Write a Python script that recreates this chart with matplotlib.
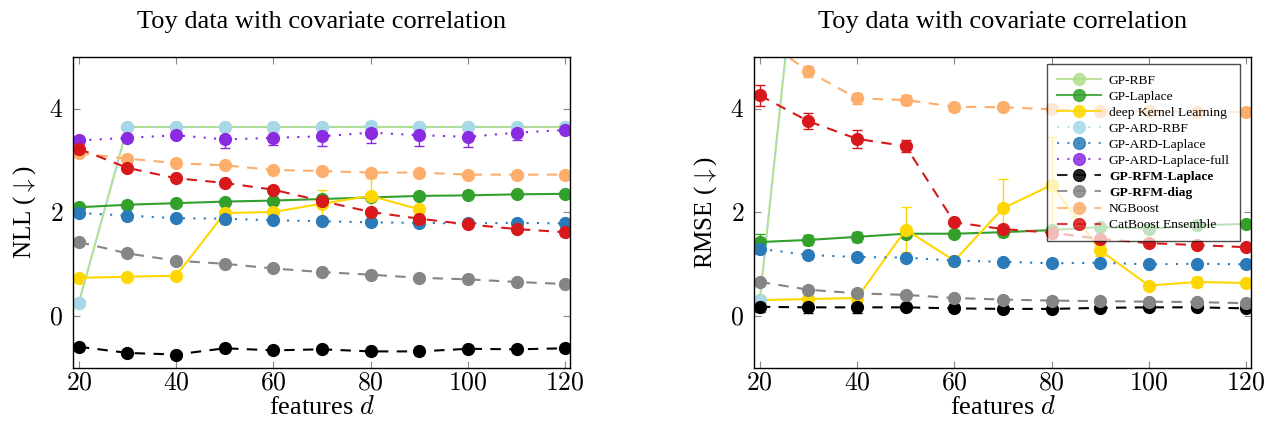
import numpy as np
import matplotlib
matplotlib.use("Agg")
import matplotlib.pyplot as plt
from matplotlib.lines import Line2D

plt.rcParams["font.family"] = ["Liberation Serif", "DejaVu Serif"]
plt.rcParams["mathtext.fontset"] = "cm"

nan = np.nan
FEATURES = [20, 30, 40, 50, 60, 70, 80, 90, 100, 110, 120]
XTICKS = [20, 40, 60, 80, 100, 120]
YTICKS = [0, 2, 4]

METHODS = ["GP-RBF", "GP-Laplace", "deep Kernel Learning", "GP-ARD-RBF",
           "GP-ARD-Laplace", "GP-ARD-Laplace-full", "GP-RFM-Laplace",
           "GP-RFM-diag", "NGBoost", "CatBoost Ensemble"]
COLORS = ["#b2df8a", "#33a02c", "#ffd700", "#a6d8e8", "#2b7bba",
          "#8a2be2", "#000000", "#858585", "#fdae6b", "#d7191c"]
STYLES = ["-", "-", "-", ":", ":", ":", "--", "--", "--", "--"]
DASHES = {"-": (None, None), ":": (1, 4), "--": (5, 4)}

# ---- NLL (left) ----
NLL = [
    [0.26, 3.65, 3.65, 3.65, 3.65, 3.65, 3.65, 3.65, 3.65, 3.65, 3.65],
    [2.10, 2.15, 2.18, 2.21, 2.23, 2.26, 2.29, 2.32, 2.33, 2.35, 2.36],
    [0.74, 0.76, 0.78, 1.99, 2.01, 2.17, 2.32, 2.06, nan, nan, nan],
    [0.26, 3.65, 3.65, 3.65, 3.65, 3.65, 3.66, 3.65, 3.65, 3.65, 3.65],
    [1.99, 1.94, 1.89, 1.88, 1.85, 1.83, 1.81, 1.80, 1.79, 1.80, 1.79],
    [3.39, 3.44, 3.49, 3.41, 3.44, 3.47, 3.54, 3.49, 3.46, 3.54, 3.59],
    [-0.59, -0.71, -0.74, -0.62, -0.66, -0.64, -0.68, -0.68, -0.63, -0.64, -0.62],
    [1.43, 1.21, 1.07, 1.01, 0.92, 0.85, 0.80, 0.74, 0.71, 0.66, 0.62],
    [3.14, 3.04, 2.95, 2.91, 2.82, 2.80, 2.77, 2.77, 2.73, 2.73, 2.73],
    [3.23, 2.86, 2.66, 2.57, 2.44, 2.22, 2.01, 1.88, 1.77, 1.68, 1.62],
]
NLL_ERR = [
    [0.02] * 11,
    [0.03] * 11,
    [0.02, 0.02, 0.02, 0.22, 0.05, 0.27, 0.35, 0.05, nan, nan, nan],
    [0.02, 0.02, 0.02, 0.02, 0.02, 0.02, 0.05, 0.02, 0.02, 0.02, 0.02],
    [0.03] * 11,
    [0.04, 0.05, 0.05, 0.17, 0.13, 0.18, 0.20, 0.20, 0.20, 0.14, 0.05],
    [0.03] * 11,
    [0.03] * 11,
    [0.03] * 11,
    [0.04] * 11,
]

# ---- RMSE (right) ----
RMSE = [
    [0.32, 9.2, nan, nan, nan, nan, nan, nan, nan, nan, nan],
    [1.43, 1.47, 1.53, 1.59, 1.59, 1.62, 1.66, 1.72, 1.69, 1.75, 1.78],
    [0.31, 0.33, 0.35, 1.67, 1.07, 2.08, 2.53, 1.27, 0.59, 0.66, 0.64],
    [0.32, 9.2, nan, nan, nan, nan, nan, nan, nan, nan, nan],
    [1.30, 1.18, 1.14, 1.13, 1.07, 1.05, 1.02, 1.03, 1.00, 1.01, 1.00],
    [nan] * 11,
    [0.18, 0.17, 0.17, 0.17, 0.15, 0.14, 0.14, 0.16, 0.17, 0.17, 0.15],
    [0.66, 0.51, 0.44, 0.41, 0.35, 0.32, 0.30, 0.29, 0.28, 0.27, 0.25],
    [5.4, 4.72, 4.20, 4.17, 4.04, 4.03, 3.99, 3.96, 3.95, 3.94, 3.94],
    [4.26, 3.76, 3.42, 3.28, 1.81, 1.68, 1.61, 1.49, 1.41, 1.37, 1.33],
]
RMSE_ERR = [
    [0.03, 0.1, nan, nan, nan, nan, nan, nan, nan, nan, nan],
    [0.15, 0.10, 0.10, 0.05, 0.05, 0.05, 0.05, 0.05, 0.05, 0.05, 0.05],
    [0.03, 0.05, 0.05, 0.44, 0.07, 0.56, 0.93, 0.10, 0.05, 0.10, 0.05],
    [0.03, 0.1, nan, nan, nan, nan, nan, nan, nan, nan, nan],
    [0.10, 0.05, 0.05, 0.04, 0.04, 0.04, 0.04, 0.04, 0.04, 0.04, 0.04],
    [nan] * 11,
    [0.10, 0.10, 0.10, 0.05, 0.04, 0.04, 0.04, 0.04, 0.04, 0.04, 0.04],
    [0.03] * 11,
    [0.10, 0.10, 0.10, 0.10, 0.08, 0.08, 0.06, 0.06, 0.06, 0.06, 0.06],
    [0.20, 0.15, 0.17, 0.12, 0.05, 0.05, 0.05, 0.05, 0.05, 0.05, 0.05],
]


def draw(ax, values, errors, ylabel):
    x = np.array(FEATURES)
    for c, ls, y, e in zip(COLORS, STYLES, values, errors):
        ax.errorbar(x, y, yerr=e, color=c, linestyle=ls, lw=1.5,
                    dashes=DASHES[ls], marker="o", markersize=8.5,
                    capsize=3.5, elinewidth=1.0, capthick=1.0)
    ax.set_xlim(18.8, 121)
    ax.set_ylim(-1, 5)
    ax.set_xticks(XTICKS)
    ax.set_xticklabels([f"${v}$" for v in XTICKS])
    ax.set_yticks(YTICKS)
    ax.set_yticklabels([f"${v}$" for v in YTICKS])
    ax.tick_params(direction="in", top=True, right=True, length=5,
                   color="#888888", labelsize=18.5, pad=3)
    ax.tick_params(axis="y", pad=7)
    for s in ax.spines.values():
        s.set_linewidth(1.0)
    ax.set_xlabel("features $d$", fontsize=19, labelpad=1)
    ax.set_ylabel(ylabel, fontsize=18, labelpad=8)
    ax.set_title("Toy data with covariate correlation", fontsize=19, pad=21)


fig = plt.figure(figsize=(12.79, 4.36), dpi=100)
ax1 = fig.add_axes([0.0571, 0.156, 0.3886, 0.7133])
ax2 = fig.add_axes([0.5895, 0.156, 0.3886, 0.7133])

draw(ax1, NLL, NLL_ERR, r"NLL ($\downarrow$)")
draw(ax2, RMSE, RMSE_ERR, r"RMSE ($\downarrow$)")

handles = [Line2D([], [], color=c, linestyle=ls, dashes=DASHES[ls], lw=1.5,
                  marker="o", markersize=8.5, markerfacecolor=c,
                  markeredgecolor=c, alpha=0.85)
           for c, ls in zip(COLORS, STYLES)]
leg = ax2.legend(handles, METHODS, loc="upper right",
                 bbox_to_anchor=(0.978, 0.977), fontsize=9.7,
                 frameon=True, framealpha=0.7, edgecolor="black", fancybox=False,
                 handlelength=3.25, labelspacing=0.27, borderpad=0.75,
                 borderaxespad=0.0, handletextpad=0.6)
leg.get_frame().set_linewidth(1.0)
for t in leg.get_texts():
    if t.get_text().startswith("GP-RFM"):
        t.set_fontweight("bold")

fig.savefig("out.png", dpi=100)
